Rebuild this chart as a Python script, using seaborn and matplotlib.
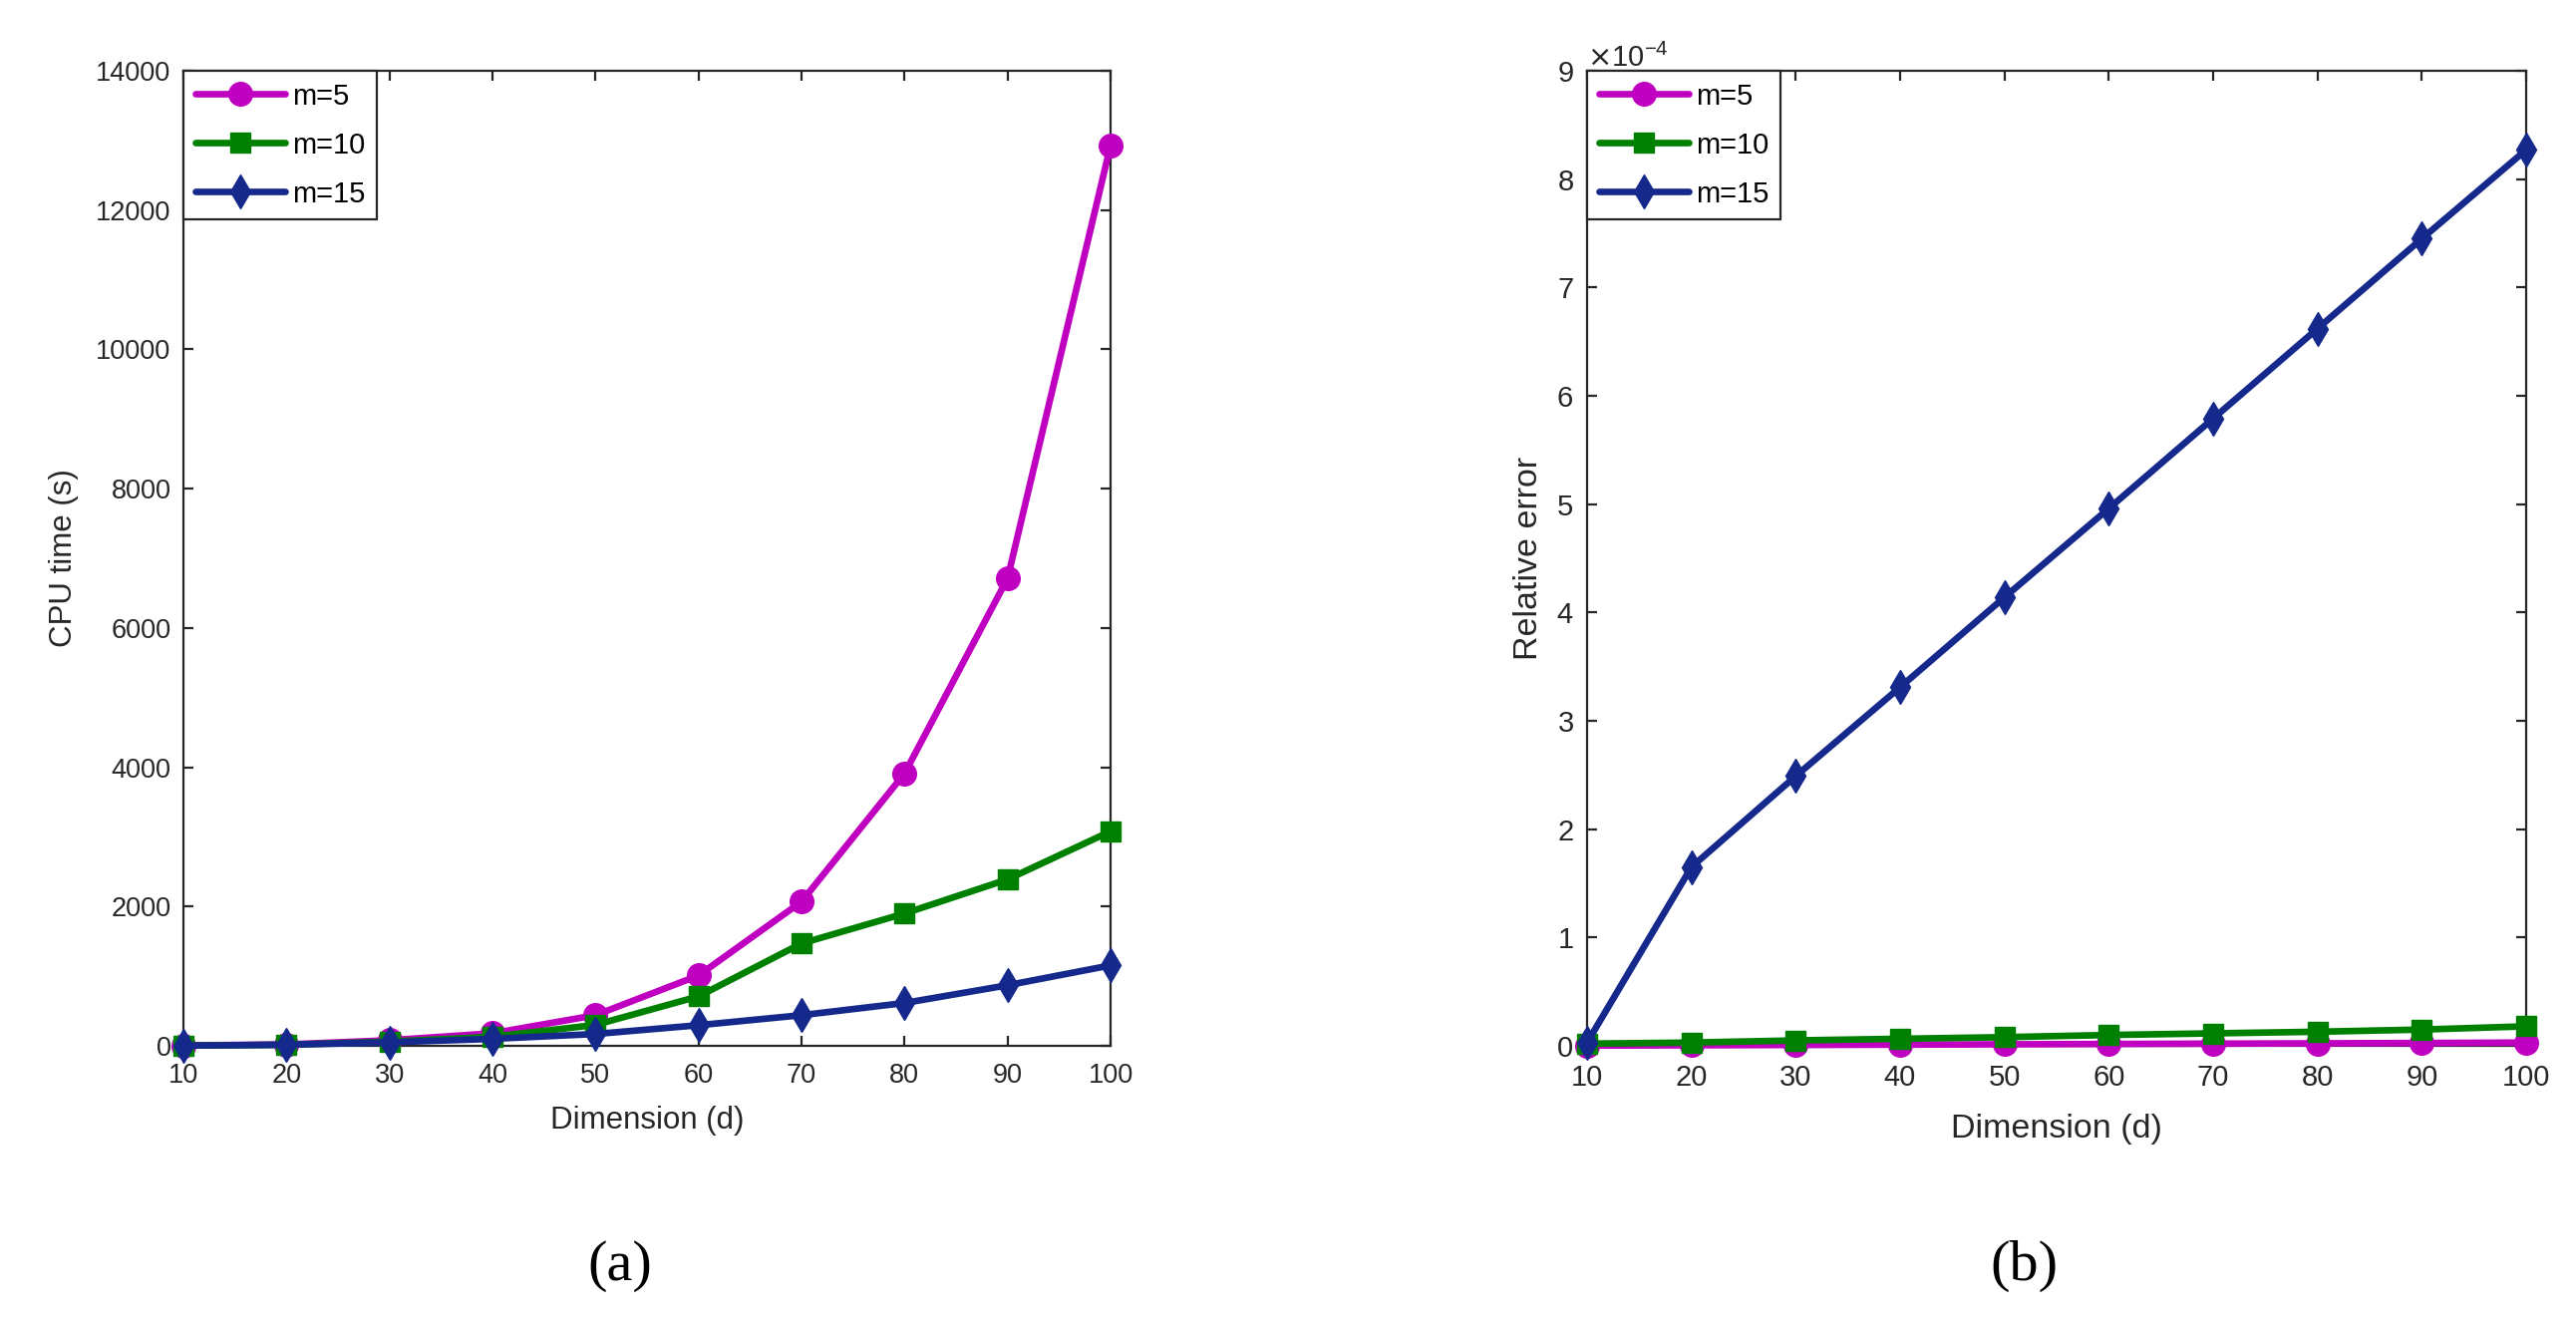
import numpy as np
import pandas as pd
import matplotlib
matplotlib.use("Agg")
import matplotlib.pyplot as plt
import seaborn as sns
from matplotlib.ticker import ScalarFormatter

# Data
dims = [10, 20, 30, 40, 50, 60, 70, 80, 90, 100]
labels = ["m=5", "m=10", "m=15"]

cpu_m5 = [5, 20, 80, 180, 440, 1010, 2070, 3910, 6710, 12930]
cpu_m10 = [3, 15, 60, 130, 300, 710, 1470, 1900, 2390, 3080]
cpu_m15 = [3, 15, 50, 100, 170, 296, 440, 615, 870, 1155]

err_m5 = [0.002e-4, 0.005e-4, 0.008e-4, 0.011e-4, 0.014e-4, 0.017e-4, 0.020e-4, 0.023e-4, 0.026e-4, 0.030e-4]
err_m10 = [0.02e-4, 0.03e-4, 0.05e-4, 0.065e-4, 0.08e-4, 0.10e-4, 0.115e-4, 0.13e-4, 0.15e-4, 0.18e-4]
err_m15 = [0.03e-4, 1.65e-4, 2.49e-4, 3.31e-4, 4.14e-4, 4.96e-4, 5.79e-4, 6.62e-4, 7.45e-4, 8.27e-4]

colors = ["#C000C0", "#008000", "#15298C"]
markers = ["o", "s", "d"]
msizes = [17, 14.5, 17.5]

sns.set_theme(style="ticks")
plt.rcParams["font.family"] = ["Liberation Sans", "DejaVu Sans"]
plt.rcParams["axes.edgecolor"] = "#262626"
plt.rcParams["xtick.color"] = "#262626"
plt.rcParams["ytick.color"] = "#262626"
plt.rcParams["axes.labelcolor"] = "#262626"

fig = plt.figure(figsize=(25.84, 13.23), dpi=100)
ax1 = fig.add_axes([184 / 2584, 1 - 1049 / 1323, 930 / 2584, 978 / 1323])
ax2 = fig.add_axes([1592 / 2584, 1 - 1049 / 1323, 942 / 2584, 978 / 1323])


def draw(ax, series, ylim, yticks, tick_fs, label_fs, ylabel, xpad, ylpad, xlpad, leg_fs, spacing):
    for vals, lab, c, mk, ms in zip(series, labels, colors, markers, msizes):
        sns.lineplot(x=dims, y=vals, ax=ax, color=c, marker=mk, markersize=ms,
                     markeredgecolor=c, markeredgewidth=1, linewidth=4.8,
                     label=lab, clip_on=False, zorder=3)
    ax.set_xlim(10, 100)
    ax.set_ylim(*ylim)
    ax.set_xticks(dims)
    ax.set_yticks(yticks)
    for sp in ax.spines.values():
        sp.set_linewidth(1.6)
        sp.set_visible(True)
    ax.tick_params(direction="in", top=True, right=True, length=7, width=1.6,
                   labelsize=tick_fs)
    ax.tick_params(axis="x", pad=xpad)
    ax.tick_params(axis="y", pad=xpad * 0.75)
    ax.set_xlabel("Dimension (d)", fontsize=label_fs, labelpad=xlpad)
    ax.set_ylabel(ylabel, fontsize=label_fs, labelpad=ylpad)
    leg = ax.legend(loc="upper left", borderaxespad=0, fontsize=leg_fs,
                    frameon=True, fancybox=False, shadow=False,
                    handlelength=3.1, handletextpad=0.25, labelspacing=spacing,
                    borderpad=0.4)
    leg.get_frame().set_edgecolor("#262626")
    leg.get_frame().set_linewidth(1.6)
    leg.get_frame().set_alpha(1)
    for t in leg.get_texts():
        t.set_color("black")


draw(ax1, [cpu_m5, cpu_m10, cpu_m15], (0, 14000), range(0, 14001, 2000),
     19.5, 22.5, "CPU time (s)", 12, 12, 12.5, 21, 0.72)
draw(ax2, [err_m5, err_m10, err_m15], (0, 9e-4), np.arange(0, 9.01e-4, 1e-4),
     21, 24.5, "Relative error", 13, 9, 16, 21, 0.72)

fmt = ScalarFormatter(useMathText=True)
fmt.set_powerlimits((-3, 3))
ax2.yaxis.set_major_formatter(fmt)
ax2.yaxis.get_offset_text().set_fontsize(21)

fig.text(622 / 2584, 1 - 1270 / 1323, "(a)", fontsize=42, ha="center", va="center",
         family="Liberation Serif", color="black")
fig.text(2030 / 2584, 1 - 1270 / 1323, "(b)", fontsize=42, ha="center", va="center",
         family="Liberation Serif", color="black")

fig.savefig("out.png", dpi=100, facecolor="white")
